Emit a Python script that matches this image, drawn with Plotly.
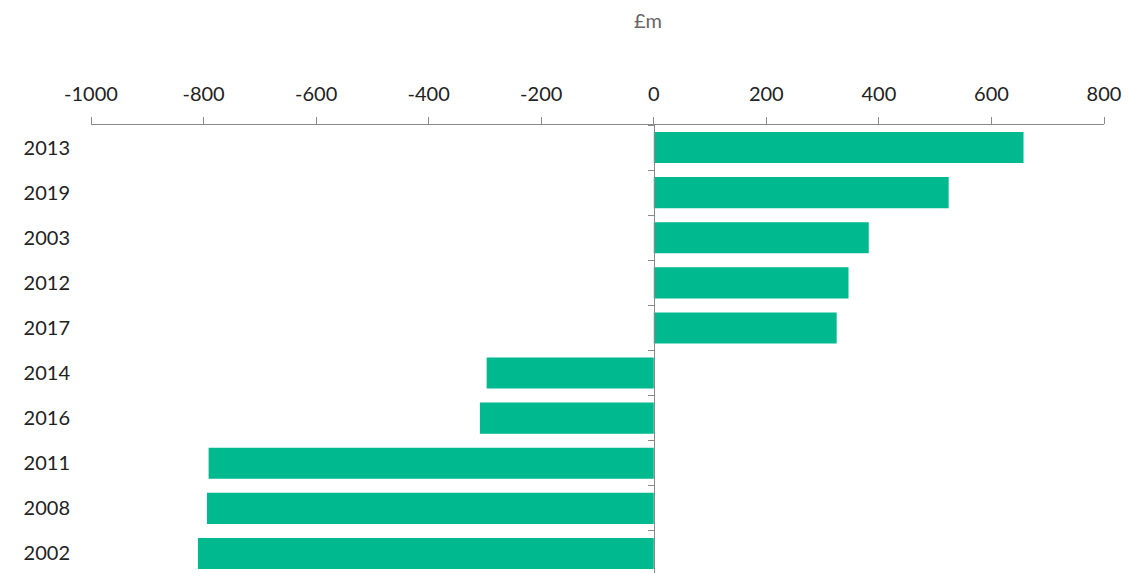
import plotly.graph_objects as go

years = ["2013", "2019", "2003", "2012", "2017", "2014", "2016", "2011", "2008", "2002"]
values = [657, 524, 382, 346, 325, -297, -309, -791, -794, -810]
x_tickvals = [-1000, -800, -600, -400, -200, 0, 200, 400, 600, 800]
x_ticktext = ["-1000", "-800", "-600", "-400", "-200", "0", "200", "400", "600", "800"]
unit_label = "£m"

FONT = "Lato"
fig = go.Figure()
fig.add_trace(go.Bar(
    x=values, y=years, orientation="h",
    marker=dict(color="#00B98E", line=dict(width=0)),
    width=0.69, yaxis="y", hoverinfo="x+y",
))
# invisible trace to carry the zero-positioned axis with boundary ticks
fig.add_trace(go.Scatter(
    x=[0] * len(years), y=years, yaxis="y2", mode="markers",
    marker=dict(size=0, opacity=0), hoverinfo="skip", showlegend=False,
))

yr = [9.433, -0.5]
fig.update_layout(
    width=1130, height=573,
    margin=dict(l=91, r=26, t=125, b=0),
    paper_bgcolor="white", plot_bgcolor="white",
    showlegend=False,
    font=dict(family=FONT, size=20, color="#222222"),
    xaxis=dict(
        side="top", range=[-1000, 800], tickvals=x_tickvals, ticktext=x_ticktext,
        showgrid=False, zeroline=False, showline=True, linecolor="#8a8a8a", linewidth=1.3,
        ticks="outside", ticklen=7, tickcolor="#8a8a8a", tickwidth=1.3,
        tickfont=dict(family=FONT, size=20, color="#222222"),
        ticklabelstandoff=8,
    ),
    yaxis=dict(
        type="category", categoryorder="array", categoryarray=years, range=yr,
        showgrid=False, zeroline=False, showline=False, ticks="",
        tickfont=dict(family=FONT, size=20, color="#222222"),
        ticklabelstandoff=20,
    ),
    yaxis2=dict(
        type="category", categoryorder="array", categoryarray=years, range=yr,
        overlaying="y", anchor="free", position=1000 / 1800,
        showgrid=False, zeroline=False, showline=True, linecolor="#8a8a8a", linewidth=1.3,
        ticks="outside", tickson="boundaries", ticklen=6, tickcolor="#8a8a8a", tickwidth=1.3,
        showticklabels=False,
    ),
    annotations=[dict(
        text=unit_label, xref="paper", yref="paper",
        x=(648 - 91) / 1013, y=1, yshift=105, xanchor="center", yanchor="middle",
        showarrow=False, font=dict(family=FONT, size=20, color="#666666"),
    )],
)

fig.write_html(
    "out.html",
    config={"displayModeBar": False},
    post_script="document.body.style.margin='0px';document.body.style.overflow='hidden';",
)
